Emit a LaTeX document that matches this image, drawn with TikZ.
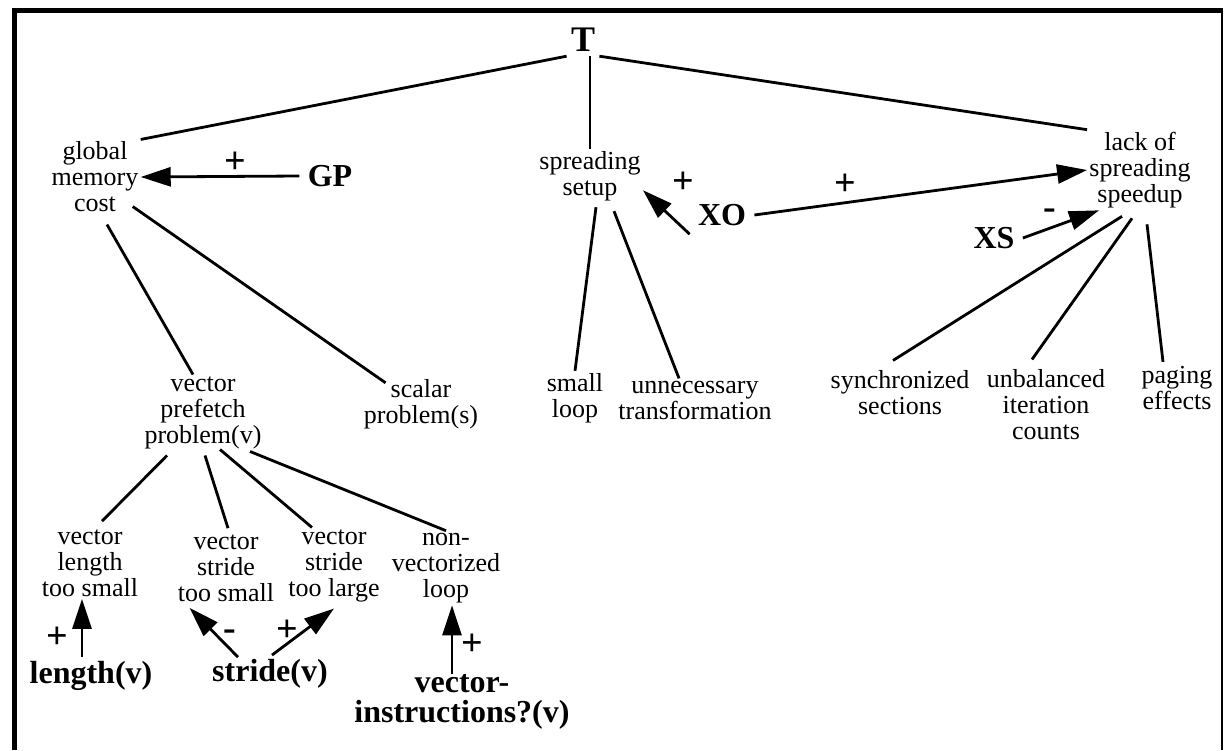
\documentclass[tikz,border=0pt]{standalone}
\usepackage{fontspec}
\setmainfont{Liberation Serif}
\usetikzlibrary{arrows.meta}

\begin{document}
\begin{tikzpicture}[x=0.5pt, y=-0.5pt,
  lbl/.style={align=center, inner sep=1pt, font=\fontsize{13}{13}\selectfont},
  cause/.style={align=center, inner sep=4pt, font=\fontsize{16}{15}\selectfont\bfseries},
  sign/.style={inner sep=0pt, font=\fontsize{19}{19}\selectfont\bfseries},
  edge/.style={line width=1.4pt},
  arr/.style={-{Triangle[length=15pt, width=9.5pt]}, line width=1.4pt}
]
  \useasboundingbox (0,0) rectangle (1224,750);
  % frame
  \draw[line width=2.5pt] (14,750) -- (14,10) -- (1223,10);
  \draw[line width=0.8pt] (1222,10) -- (1222,750);

  % top level
  \node[cause, inner sep=2pt, font=\fontsize{18}{18}\selectfont\bfseries] (T) at (583,40) {T};
  \node[lbl] (gmc)  at (95,177)   {global\\memory\\cost};
  \node[lbl] (ss)   at (590,176)  {spreading\\setup};
  \node[lbl] (lack) at (1140,170) {lack of\\spreading\\speedup};

  \node[cause] (GP) at (330,176) {GP};
  \node[cause] (XO) at (722,215) {XO};
  \node[cause] (XS) at (994,238) {XS};

  % second level
  \node[lbl] (vpp)    at (203,413)  {vector\\prefetch\\problem(v)};
  \node[lbl] (scalar) at (421,404)  {scalar\\problem(s)};
  \node[lbl] (sloop)  at (575,398)  {small\\loop};
  \node[lbl] (unnec)  at (695,400)  {unnecessary\\transformation};
  \node[lbl] (sync)   at (900,393)  {synchronized\\sections};
  \node[lbl] (unbal)  at (1046,405) {unbalanced\\iteration\\counts};
  \node[lbl] (paging) at (1177,388) {paging\\effects};

  % vector prefetch causes
  \node[lbl] (vlts) at (90,563)  {vector\\length\\too small};
  \node[lbl] (vsts) at (226,568) {vector\\stride\\too small};
  \node[lbl] (vstl) at (334,566) {vector\\stride\\too large};
  \node[lbl] (nvl)  at (446,568) {non-\\vectorized\\loop};

  \node[cause, inner sep=2pt] (lenv)    at (91,676)  {length(v)};
  \node[cause, inner sep=2pt] (stridev) at (270,674) {stride(v)};
  \node[cause, inner sep=2pt] (vinstr)  at (462,702) {vector-\\instructions?(v)};

  % signs
  \node[sign] (sGP)  at (235,163)  {+};
  \node[sign] (sXOa) at (683,183)  {+};
  \node[sign] (sXOb) at (845,185)  {+};
  \node[sign] (sXS)  at (1050,214) {-};
  \node[sign] (slen) at (57,638)   {+};
  \node[sign] (sstA) at (230,635)  {-};
  \node[sign] (sstB) at (287,631)  {+};
  \node[sign] (svin) at (472,645)  {+};

  % tree
  \draw[edge] (T.south west) -- (gmc.north east);
  \draw[edge] (ss.north |- T.south) -- (ss.north);
  \draw[edge] (T.south east) -- (lack.north west);

  \draw[edge] ([xshift=6pt,yshift=-5pt]gmc.south) -- ([xshift=-5pt]vpp.north);
  \draw[edge] ([xshift=-4pt,yshift=4pt]gmc.south east) -- ([xshift=12pt,yshift=-3pt]scalar.north west);
  \draw[edge] ([xshift=3pt,yshift=-2pt]ss.south) -- (sloop.north);
  \draw[edge] ([xshift=12pt,yshift=-4pt]ss.south) -- ([xshift=-8pt]unnec.north);
  \draw[edge] ([xshift=-9pt,yshift=-3pt]lack.south) -- ([xshift=-3.5pt,yshift=4pt]sync.north);
  \draw[edge] ([xshift=-4pt,yshift=-4pt]lack.south) -- ([xshift=-7pt,yshift=4pt]unbal.north);
  \draw[edge] ([xshift=3.5pt,yshift=-7pt]lack.south) -- ([xshift=-7pt,yshift=1pt]paging.north);

  \draw[edge] ([xshift=-18pt,yshift=-2pt]vpp.south) -- ([xshift=6pt,yshift=3pt]vlts.north);
  \draw[edge] ([xshift=1pt,yshift=-2pt]vpp.south) -- ([xshift=1pt,yshift=2pt]vsts.north);
  \draw[edge] ([xshift=8.5pt,yshift=1pt]vpp.south) -- ([xshift=-11pt]vstl.north);
  \draw[edge] ([xshift=23.5pt]vpp.south) -- (nvl.north);

  % influences
  \draw[arr] (GP.west) -- (gmc.east);
  \draw[arr] (XO.south west) -- (ss.-15);
  \draw[arr] (XO.east) -- (lack.west);
  \draw[arr] (XS.east) -- ([xshift=6pt]lack.south west);
  \draw[arr] ([xshift=-4.5pt]lenv.north) -- ([xshift=-4.5pt]lenv.north |- vlts.south);
  \draw[arr] ([xshift=-16pt,yshift=-1pt]stridev.north) -- ([xshift=7pt,yshift=-2pt]vsts.south west);
  \draw[arr] ([xshift=1pt]stridev.north) -- ([yshift=-2pt]vstl.south);
  \draw[arr] ([xshift=-5pt,yshift=-2pt]vinstr.north) -- ([xshift=-5pt]vinstr.north |- nvl.south);
\end{tikzpicture}
\end{document}
